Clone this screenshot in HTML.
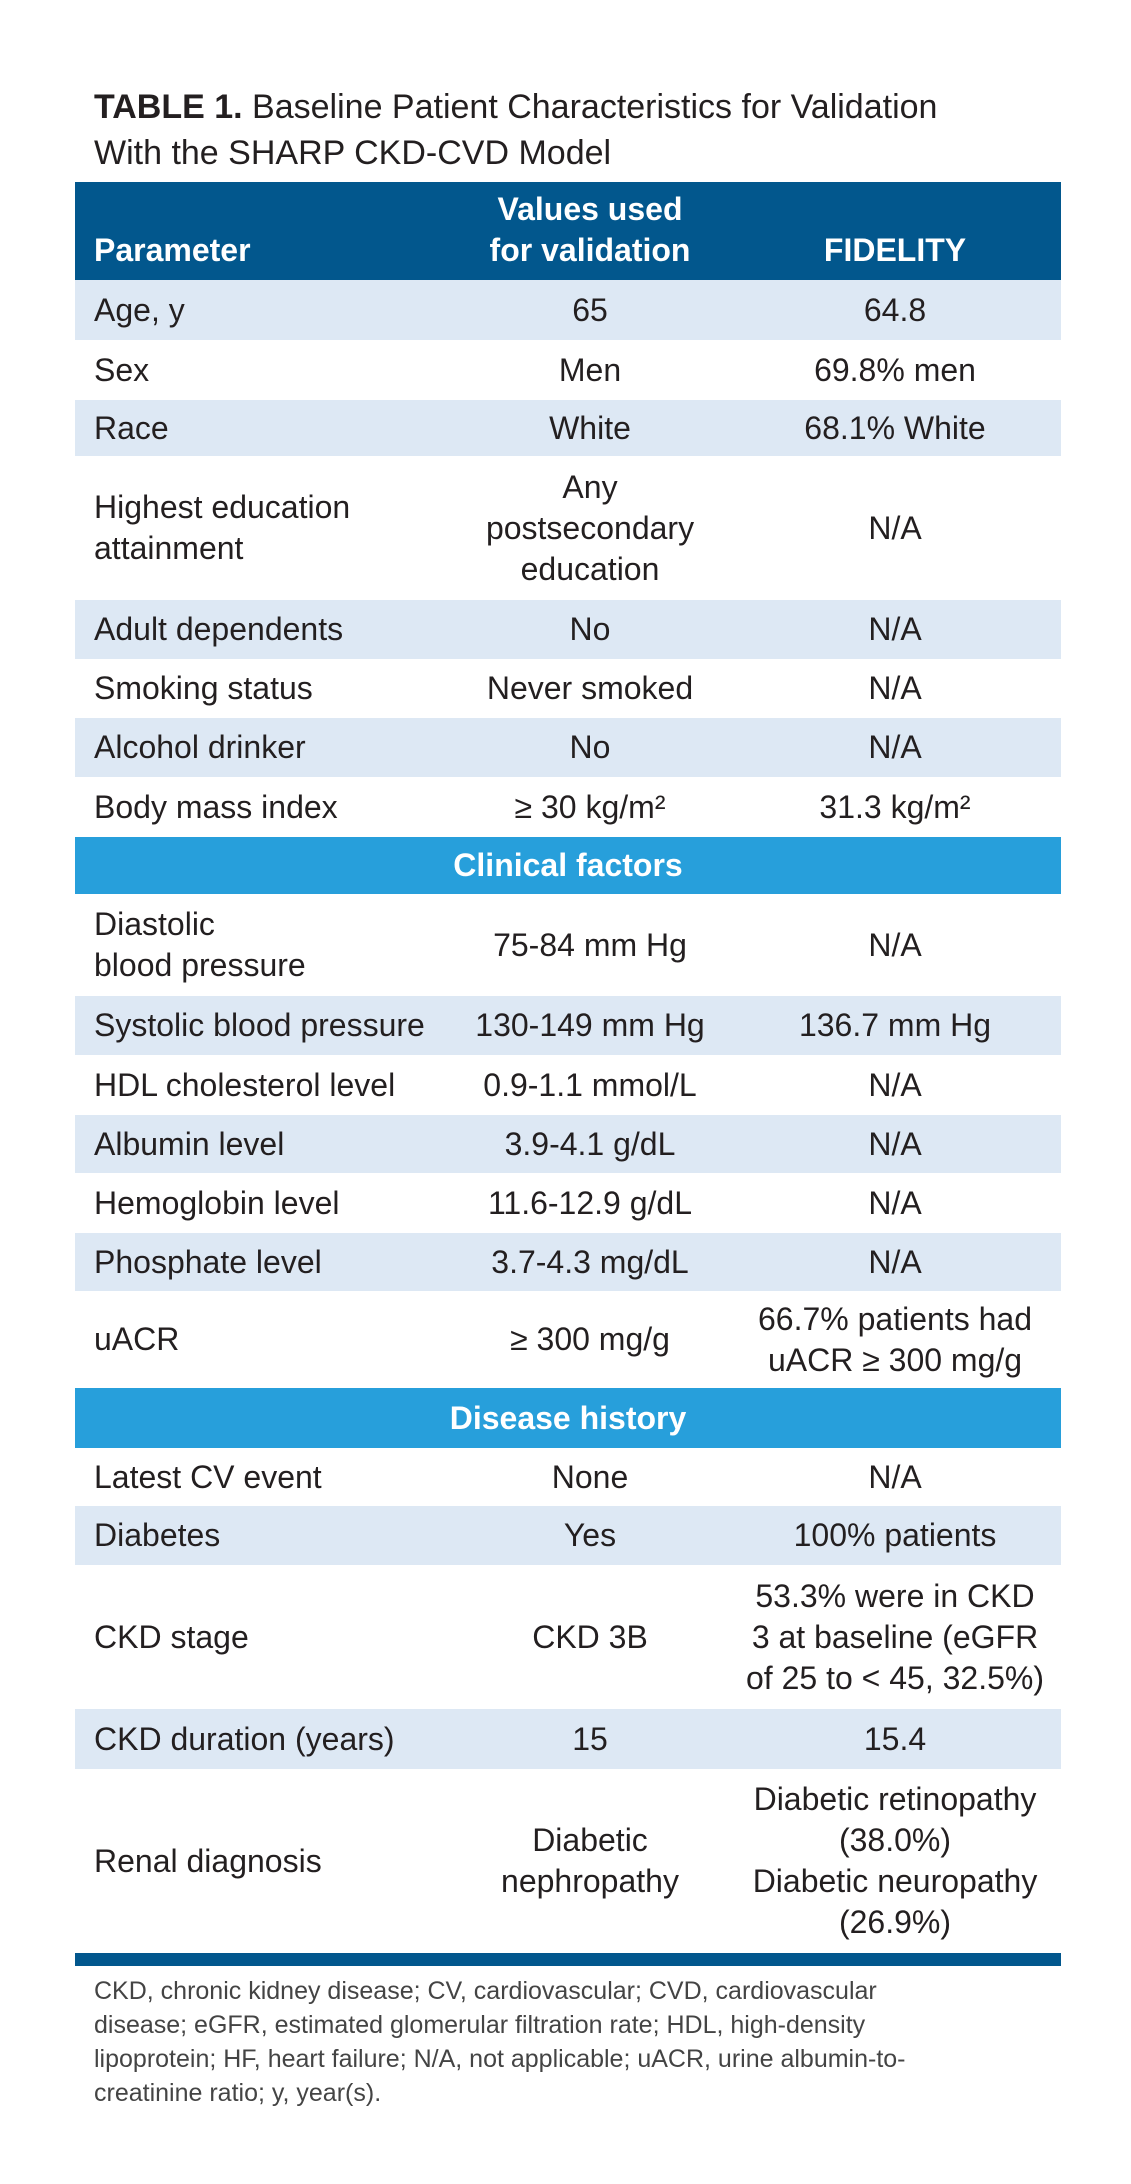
<!DOCTYPE html>
<html><head><meta charset="utf-8">
<style>
body{margin:0;width:1131px;height:2184px;background:#fff;position:relative;overflow:hidden;font-family:"Liberation Sans Narrow","Liberation Sans",sans-serif;color:#231f20}
.t{position:absolute;left:94px;font-size:34px;line-height:46px}
.r{position:absolute;left:75px;width:986px;display:flex;align-items:center}
.r.s{background:#dde8f4}
.c{font-size:32px;line-height:41px}
.c1{position:absolute;left:19px;width:440px}
.c2{position:absolute;left:395px;width:240px;text-align:center}
.c3{position:absolute;left:660px;width:320px;text-align:center}
.hd{background:#02578d;color:#fff;font-weight:bold}
.sec{background:#279fdb;color:#fff;font-weight:bold;justify-content:center;font-size:32px}
.fn{position:absolute;left:94px;top:1974px;width:880px;font-size:25px;line-height:34px;color:#444}
</style></head><body>
<div class="t" style="top:84px"><b>TABLE 1.</b> Baseline Patient Characteristics for Validation<br>With the SHARP CKD-CVD Model</div>

<div class="r hd" style="top:182px;height:98px">
<div class="c c1" style="top:48px">Parameter</div>
<div class="c c2" style="top:7px">Values used<br>for validation</div>
<div class="c c3" style="top:48px">FIDELITY</div></div>

<div class="r s" style="top:280px;height:60px"><div class="c c1">Age, y</div><div class="c c2">65</div><div class="c c3">64.8</div></div>
<div class="r" style="top:340px;height:60px"><div class="c c1">Sex</div><div class="c c2">Men</div><div class="c c3">69.8% men</div></div>
<div class="r s" style="top:400px;height:56px"><div class="c c1">Race</div><div class="c c2">White</div><div class="c c3">68.1% White</div></div>
<div class="r" style="top:456px;height:144px"><div class="c c1">Highest education<br>attainment</div><div class="c c2">Any<br>postsecondary<br>education</div><div class="c c3">N/A</div></div>
<div class="r s" style="top:600px;height:59px"><div class="c c1">Adult dependents</div><div class="c c2">No</div><div class="c c3">N/A</div></div>
<div class="r" style="top:659px;height:59px"><div class="c c1">Smoking status</div><div class="c c2">Never smoked</div><div class="c c3">N/A</div></div>
<div class="r s" style="top:718px;height:59px"><div class="c c1">Alcohol drinker</div><div class="c c2">No</div><div class="c c3">N/A</div></div>
<div class="r" style="top:777px;height:60px"><div class="c c1">Body mass index</div><div class="c c2">≥ 30 kg/m²</div><div class="c c3">31.3 kg/m²</div></div>
<div class="r sec" style="top:837px;height:57px">Clinical factors</div>
<div class="r" style="top:894px;height:102px"><div class="c c1">Diastolic<br>blood pressure</div><div class="c c2">75-84 mm Hg</div><div class="c c3">N/A</div></div>
<div class="r s" style="top:996px;height:59px"><div class="c c1">Systolic blood pressure</div><div class="c c2">130-149 mm Hg</div><div class="c c3">136.7 mm Hg</div></div>
<div class="r" style="top:1055px;height:60px"><div class="c c1">HDL cholesterol level</div><div class="c c2">0.9-1.1 mmol/L</div><div class="c c3">N/A</div></div>
<div class="r s" style="top:1115px;height:58px"><div class="c c1">Albumin level</div><div class="c c2">3.9-4.1 g/dL</div><div class="c c3">N/A</div></div>
<div class="r" style="top:1173px;height:60px"><div class="c c1">Hemoglobin level</div><div class="c c2">11.6-12.9 g/dL</div><div class="c c3">N/A</div></div>
<div class="r s" style="top:1233px;height:58px"><div class="c c1">Phosphate level</div><div class="c c2">3.7-4.3 mg/dL</div><div class="c c3">N/A</div></div>
<div class="r" style="top:1291px;height:97px"><div class="c c1">uACR</div><div class="c c2">≥ 300 mg/g</div><div class="c c3">66.7% patients had<br>uACR ≥ 300 mg/g</div></div>
<div class="r sec" style="top:1388px;height:60px">Disease history</div>
<div class="r" style="top:1448px;height:58px"><div class="c c1">Latest CV event</div><div class="c c2">None</div><div class="c c3">N/A</div></div>
<div class="r s" style="top:1506px;height:59px"><div class="c c1">Diabetes</div><div class="c c2">Yes</div><div class="c c3">100% patients</div></div>
<div class="r" style="top:1565px;height:144px"><div class="c c1">CKD stage</div><div class="c c2">CKD 3B</div><div class="c c3">53.3% were in CKD<br>3 at baseline (eGFR<br>of 25 to &lt; 45, 32.5%)</div></div>
<div class="r s" style="top:1709px;height:60px"><div class="c c1">CKD duration (years)</div><div class="c c2">15</div><div class="c c3">15.4</div></div>
<div class="r" style="top:1769px;height:184px"><div class="c c1">Renal diagnosis</div><div class="c c2">Diabetic<br>nephropathy</div><div class="c c3">Diabetic retinopathy<br>(38.0%)<br>Diabetic neuropathy<br>(26.9%)</div></div>
<div class="r" style="top:1953px;height:13px;background:#02578d"></div>

<div class="fn">CKD, chronic kidney disease; CV, cardiovascular; CVD, cardiovascular disease; eGFR, estimated glomerular filtration rate; HDL, high-density lipoprotein; HF, heart failure; N/A, not applicable; uACR, urine albumin-to-creatinine ratio; y, year(s).</div>
</body></html>
